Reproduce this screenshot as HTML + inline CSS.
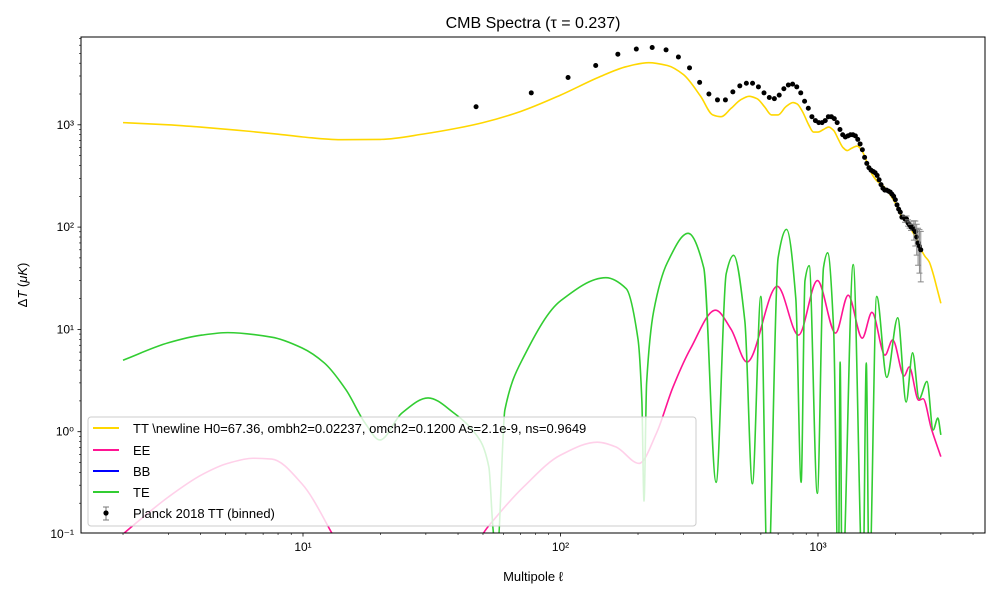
<!DOCTYPE html>
<html><head><meta charset="utf-8"><style>
body{margin:0;background:#fff}
svg{display:block;font-family:"Liberation Sans","DejaVu Sans",sans-serif}
</style></head><body>
<svg id="chart" width="1000" height="600" viewBox="0 0 1000 600">
<defs><clipPath id="clip"><rect x="81" y="37" width="904" height="496"/></clipPath></defs>
<rect x="0" y="0" width="1000" height="600" fill="#fff"/>
<text x="533" y="28" text-anchor="middle" font-size="16">CMB Spectra (τ = 0.237)</text>
<g id="series" clip-path="url(#clip)"></g>
<g id="axes"></g>
<rect x="81" y="37" width="904" height="496" fill="none" stroke="#000" stroke-width="1"/>
<text x="533" y="581" text-anchor="middle" font-size="13">Multipole ℓ</text>
<text transform="translate(27,285) rotate(-90)" text-anchor="middle" font-size="13">Δ<tspan font-style="italic">T</tspan> (<tspan font-style="italic">μK</tspan>)</text>
<g id="legend">
<rect x="88" y="417" width="608" height="109" rx="3" fill="rgba(255,255,255,0.8)" stroke="#ccc"/>
<line x1="93" y1="428" x2="119" y2="428" stroke="#ffd700" stroke-width="2"/>
<text x="133" y="433" font-size="13">TT \newline H0=67.36, ombh2=0.02237, omch2=0.1200 As=2.1e-9, ns=0.9649</text>
<line x1="93" y1="450" x2="119" y2="450" stroke="#ff1493" stroke-width="2"/>
<text x="133" y="455" font-size="13">EE</text>
<line x1="93" y1="471" x2="119" y2="471" stroke="#0000ff" stroke-width="2"/>
<text x="133" y="476" font-size="13">BB</text>
<line x1="93" y1="492" x2="119" y2="492" stroke="#32cd32" stroke-width="2"/>
<text x="133" y="497" font-size="13">TE</text>
<line x1="106" y1="507" x2="106" y2="520" stroke="#777" stroke-width="1"/>
<line x1="103" y1="507" x2="109" y2="507" stroke="#777"/><line x1="103" y1="520" x2="109" y2="520" stroke="#777"/>
<circle cx="106" cy="513" r="2.6" fill="#000"/>
<text x="133" y="518" font-size="13">Planck 2018 TT (binned)</text>
</g>
</svg>
<script>
const ttL=[2,3,4,6,8,10,14,20,30,40,50,70,100,140,180,220,260,300,350,390,420,460,500,540,580,620,660,700,750,800,830,870,920,960,1000,1050,1100,1150,1200,1250,1300,1350,1420,1480,1550,1620,1700,1800,1900,2000,2100,2200,2300,2400,2500,2600,2700,2800,2900,3000];
const ttV=[1050,1000,950,870,810,760,715,720,820,930,1050,1350,1950,2900,3700,4050,3800,3100,1900,1250,1200,1450,1750,1900,1800,1500,1250,1250,1500,1650,1600,1350,1000,850,850,900,950,880,720,600,560,590,620,560,430,330,280,250,210,170,130,115,95,78,62,52,46,35,25,18];
const teL=[2,3,4.05,5.1,7.56,9.9,12.1,14.7,17.4,19.9,24.2,30.6,38.6,48.6,52.7,55,57,60.8,72,100,150,180,200,207,211,216,230,260,313,360,402,440,470,520,556,600,638,700,755,820,860,890,924,994,1050,1090,1150,1200,1219,1240,1370,1495,1540,1580,1690,1850,2040,2200,2330,2470,2650,2800,2920,3000];
const teV=[5.0,7.4,8.8,9.3,8.4,6.6,4.7,2.56,1.22,0.83,1.52,2.14,1.52,0.83,0.45,0.1,0.08,1.63,5.4,19,32,25,8,2,0.21,3,15,45,87,40,0.32,35,53,12,0.31,21,0.03,50,95,20,0.32,30,42,0.25,40,56,10,0.03,4.8,0.03,43,0.03,4.7,0.03,21,3.4,13,1.95,5.9,2.1,3.1,1.04,1.36,0.93];
const eeL=[1.8,2,3,4.05,5.1,6.4,7.56,9.9,13,15,25,45,50,55,72,100,139,164,202,236,273,320,400,460,530,695,840,995,1170,1310,1485,1620,1820,1950,2160,2260,2460,2560,2750,3000];
const eeV=[0.08,0.1,0.23,0.38,0.49,0.55,0.54,0.31,0.1,0.05,0.02,0.05,0.1,0.137,0.29,0.59,0.79,0.71,0.49,0.97,2.7,6.5,15.4,10,4.8,26.4,8.8,30,9.2,21.6,8.2,14.7,5.6,7.9,3.5,4.3,2.03,2.1,1.09,0.57];
const pL=[47,77,107,137,167,197,227,257,287,317,347,377,407,437,467,497,527,557,587,617,647,677,707,737,767,797,827,857,887,917,947,977,1007,1037,1067,1097,1127,1157,1187,1217,1247,1277,1307,1337,1367,1397,1427,1457,1487,1517,1547,1577,1607,1637,1667,1697,1727,1757,1787,1817,1847,1877,1907,1937,1967,1997,2027,2057,2087,2117,2147,2177,2207,2237,2267,2297,2327,2357,2387,2417,2447,2477,2507];
const pV=[1500,2050,2900,3800,4900,5500,5700,5400,4600,3600,2600,2000,1750,1750,2100,2400,2550,2550,2350,2050,1850,1800,1950,2250,2450,2500,2350,2050,1700,1450,1200,1100,1050,1050,1100,1200,1200,1150,1050,900,800,760,780,800,800,780,720,650,570,480,420,380,360,350,340,320,290,260,240,230,230,225,220,210,200,185,165,150,140,125,125,120,120,110,105,100,100,95,90,80,70,65,60];
const pErr=pL.map(l=>l>2350?0.2+(l-2350)/500:l>2150?0.07:0);
const xTicks=[10,100,1000];const xTickLabels=["10¹","10²","10³"];
const yTicks=[0.1,1,10,100,1000];const yTickLabels=["10⁻¹","10⁰","10¹","10²","10³"];

const NS='http://www.w3.org/2000/svg';
function X(l){return 45.5+257.5*Math.log10(l);}
function Y(v){return 431.7-102.3*Math.log10(v);}
function mk(tag,attrs,parent){const e=document.createElementNS(NS,tag);for(const k in attrs)e.setAttribute(k,attrs[k]);parent.appendChild(e);return e;}
function pathFrom(L,V){
  const xs=L.map(X),ys=V.map(Y),n=xs.length;
  const d=[],m=new Array(n);
  for(let i=0;i<n-1;i++)d.push((ys[i+1]-ys[i])/(xs[i+1]-xs[i]));
  m[0]=d[0];m[n-1]=d[n-2];
  for(let i=1;i<n-1;i++){m[i]=(d[i-1]*d[i]<=0)?0:2/(1/d[i-1]+1/d[i]);}
  let s='M'+xs[0].toFixed(2)+','+ys[0].toFixed(2);
  for(let i=0;i<n-1;i++){
    const h=xs[i+1]-xs[i];
    s+=' C'+(xs[i]+h/3).toFixed(2)+','+(ys[i]+m[i]*h/3).toFixed(2)+' '+(xs[i+1]-h/3).toFixed(2)+','+(ys[i+1]-m[i+1]*h/3).toFixed(2)+' '+xs[i+1].toFixed(2)+','+ys[i+1].toFixed(2);
  }
  return s;
}
const S=document.getElementById('series');
const tt=mk('path',{d:pathFrom(ttL,ttV),fill:'none',stroke:'#ffd700','stroke-width':1.6},S);


const ee=mk('path',{d:pathFrom(eeL,eeV),fill:'none',stroke:'#ff1493','stroke-width':1.6},S);


const te=mk('path',{d:pathFrom(teL,teV),fill:'none',stroke:'#32cd32','stroke-width':1.6},S);


pL.forEach((l,i)=>{
  const x=X(l),v=pV[i],e=pErr[i];
  if(e>0.03){
    const y1=Y(v*(1+e)),y2=Y(Math.max(v*(1-e),0.01));
    const eb=mk('path',{d:`M${x},${y1}V${y2}M${x-3},${y1}H${x+3}M${x-3},${y2}H${x+3}`,stroke:'#888','stroke-width':1,fill:'none'},S);
    
    
  }
  const c=mk('circle',{cx:x,cy:Y(v),r:2.5,fill:'#000'},S);
  
  
});
const A=document.getElementById('axes');
for(let d=0;d<=3;d++)for(let m=1;m<10;m++){
  const l=m*Math.pow(10,d);const x=X(l);if(x<81||x>985)continue;
  const t=mk('line',{x1:x,x2:x,y1:533,y2:m===1?536.5:535,stroke:'#000','stroke-width':m===1?0.8:0.6},A);
  
  
}
xTicks.forEach((l,i)=>{
  const t=mk('text',{x:X(l),y:551,'text-anchor':'middle','font-size':12},A);t.textContent=xTickLabels[i];
  
  
});
for(let d=-1;d<=3;d++)for(let m=1;m<10;m++){
  const v=m*Math.pow(10,d);const y=Y(v);if(y<37||y>533.5)continue;
  const t=mk('line',{x1:81,x2:m===1?77.5:79,y1:y,y2:y,stroke:'#000','stroke-width':m===1?0.8:0.6},A);
  
  
}
yTicks.forEach((v,i)=>{
  const t=mk('text',{x:74,y:Y(v)+4,'text-anchor':'end','font-size':12},A);t.textContent=yTickLabels[i];
  
  
});
</script>
</body></html>
